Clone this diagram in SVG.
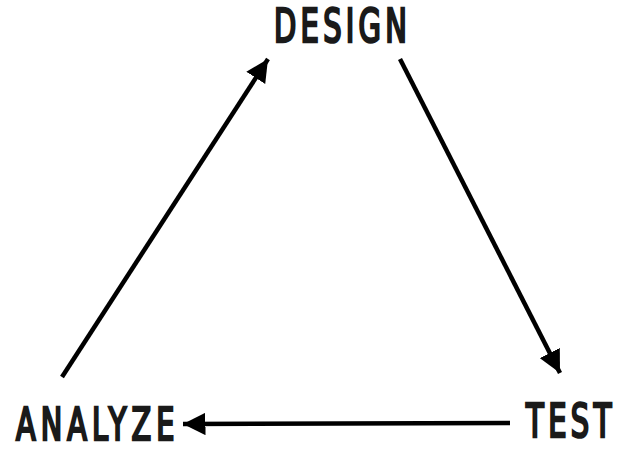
<svg xmlns="http://www.w3.org/2000/svg" width="617" height="451" viewBox="0 0 617 451">
<style>
.lbl{font-family:"DejaVu Sans Condensed","DejaVu Sans",sans-serif;font-stretch:condensed;font-weight:normal;font-size:46px;fill:#1a1a1a;stroke:#1a1a1a;stroke-width:2.6}
.conn{stroke:#000;stroke-width:4.5;fill:none;marker-end:url(#ah)}
</style>
<defs>
<marker id="ah" viewBox="0 0 10 10" refX="10" refY="5" markerWidth="5" markerHeight="5" orient="auto" markerUnits="strokeWidth">
<path d="M0,0 L10,5 L0,10 z" fill="#000"/>
</marker>
</defs>
<rect width="617" height="451" fill="#fff"/>
<g id="connectors">
<line class="conn" x1="62" y1="377" x2="268" y2="59"/>
<line class="conn" x1="400" y1="59" x2="560" y2="373"/>
<line class="conn" x1="510" y1="423" x2="183" y2="424"/>
</g>
<g id="design"><text class="lbl" transform="translate(274,42) scale(0.7,1)" x="0" y="0" textLength="190" lengthAdjust="spacing">DESIGN</text></g>
<g id="analyze"><text class="lbl" style="font-size:45px" transform="translate(16,440) scale(0.71,1)" x="0" y="0" textLength="223" lengthAdjust="spacing">ANALYZE</text></g>
<g id="test"><text class="lbl" transform="translate(526,437) scale(0.7,1)" x="0" y="0" textLength="122" lengthAdjust="spacing">TEST</text></g>
</svg>
